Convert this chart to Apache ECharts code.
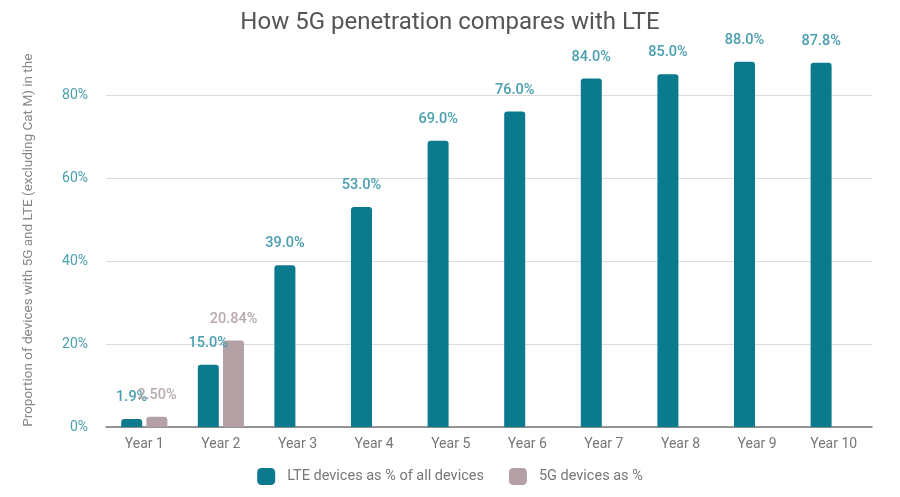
<!DOCTYPE html>
<html>
<head>
<meta charset="utf-8">
<title>How 5G penetration compares with LTE</title>
<script src="https://cdn.jsdelivr.net/npm/echarts@6/dist/echarts.min.js"></script>
<style>
    html, body {margin: 0; padding: 0; background: #fff;}
    #chart {width: 900px; height: 497px;}
</style>
</head>
<body>
<div id="chart"></div>
<script>
    var years = ['Year 1', 'Year 2', 'Year 3', 'Year 4', 'Year 5', 'Year 6', 'Year 7', 'Year 8', 'Year 9', 'Year 10'];
    var lteShare = [1.9, 15.0, 39.0, 53.0, 69.0, 76.0, 84.0, 85.0, 88.0, 87.8];
    var fiveGShare = [2.5, 20.84, null, null, null, null, null, null, null, null];
    var yTicks = [0, 20, 40, 60, 80];

    var chart = echarts.init(document.getElementById('chart'));

    var option = {
        textStyle: {fontFamily: 'Roboto, sans-serif'},
        title: {
            text: 'How 5G penetration compares with LTE',
            left: 'center',
            top: 6,
            textStyle: {fontSize: 24, fontWeight: 'normal', color: '#555'}
        },
        legend: {
            bottom: 7,
            left: 'center',
            itemWidth: 18,
            itemHeight: 17,
            itemGap: 25,
            icon: 'roundRect',
            textStyle: {fontSize: 14.5, color: '#777', padding: [0, 0, 0, 7]},
            data: ['LTE devices as % of all devices', '5G devices as %']
        },
        grid: {left: 106, right: 28, top: 53.5, bottom: 70},
        xAxis: {
            type: 'category',
            data: years,
            axisTick: {show: false},
            axisLine: {lineStyle: {color: '#777', width: 1.5}},
            axisLabel: {color: '#777', fontSize: 14, margin: 10}
        },
        yAxis: {
            type: 'value',
            min: 0,
            max: 90,
            interval: 20,
            name: 'Proportion of devices with 5G and LTE (excluding Cat M) in the',
            nameLocation: 'middle',
            nameGap: 70,
            nameTextStyle: {color: '#888', fontSize: 13.5},
            axisLabel: {
                color: '#4a9fb0',
                fontSize: 14,
                margin: 18,
                showMaxLabel: false,
                formatter: function (v) {
                    return yTicks.indexOf(v) >= 0 ? v + '%' : '';
                }
            },
            splitLine: {showMaxLine: false, lineStyle: {color: '#dcdcdc', width: 1}}
        },
        series: [
            {
                name: 'LTE devices as % of all devices',
                type: 'bar',
                data: lteShare,
                barWidth: 21,
                barGap: '20%',
                itemStyle: {color: '#0b7a8c', borderRadius: [3, 3, 0, 0]},
                label: {
                    show: true,
                    position: 'top',
                    distance: 14,
                    color: '#4a9fb0',
                    fontSize: 14.5,
                    fontWeight: 500,
                    formatter: function (p) {
                        return p.value.toFixed(1) + '%';
                    }
                }
            },
            {
                name: '5G devices as %',
                type: 'bar',
                data: fiveGShare,
                barWidth: 21,
                itemStyle: {color: '#b3a1a5', borderRadius: [3, 3, 0, 0]},
                label: {
                    show: true,
                    position: 'top',
                    distance: 14,
                    color: '#b8aaad',
                    fontSize: 14.5,
                    fontWeight: 500,
                    formatter: function (p) {
                        return p.value.toFixed(2) + '%';
                    }
                }
            }
        ]
    };

    chart.setOption(option);
</script>
</body>
</html>
